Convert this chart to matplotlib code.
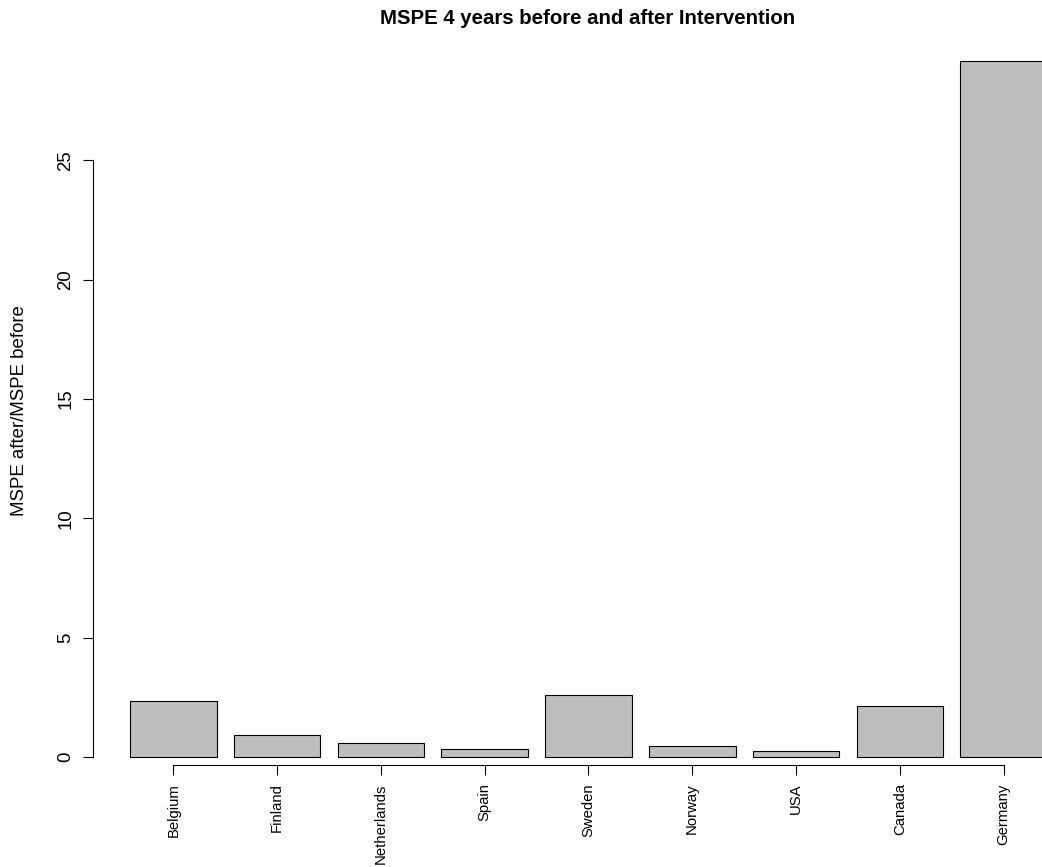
import numpy as np
import matplotlib
matplotlib.use("Agg")
import matplotlib.pyplot as plt

plt.rcParams['font.family'] = ['Liberation Sans', 'DejaVu Sans']

countries = ['Belgium', 'Finland', 'Netherlands', 'Spain', 'Sweden',
             'Norway', 'USA', 'Canada', 'Germany']
ratio = [2.35, 0.91, 0.60, 0.32, 2.61, 0.47, 0.26, 2.15, 29.17]
yticks = [0, 5, 10, 15, 20, 25]

# R barplot geometry: width 1, space 0.2
n = len(countries)
lefts = 0.2 + 1.2 * np.arange(n)
mids = lefts + 0.5
M = max(ratio)

W, H = 1042, 867
fig = plt.figure(figsize=(W / 100, H / 100), dpi=100)

# axes region in pixels (R plot region with 4% padding)
px_x, px_y = 86.5, 23.87
zero_px = 757
span = lefts[-1] + 1 - lefts[0]
x0, x1 = lefts[0] - 0.04 * span, lefts[-1] + 1 + 0.04 * span
y0, y1 = -0.04 * M, 1.04 * M
ax_left = 130 - (lefts[0] - x0) * px_x
ax_bottom = zero_px - y0 * px_y
ax_top = zero_px - y1 * px_y
ax = fig.add_axes([ax_left / W, 1 - ax_bottom / H,
                   (x1 - x0) * px_x / W, (ax_bottom - ax_top) / H])
ax.set_xlim(x0, x1)
ax.set_ylim(y0, y1)

ax.bar(lefts, ratio, width=1, align='edge', color='#bebebe',
       edgecolor='black', linewidth=0.8, clip_on=False)

for s in ['top', 'right']:
    ax.spines[s].set_visible(False)
ax.spines['left'].set_bounds(0, 25)
ax.spines['bottom'].set_position(('data', -8 / px_y))
ax.spines['bottom'].set_bounds(mids[0], mids[-1])
for s in ['left', 'bottom']:
    ax.spines[s].set_linewidth(0.8)

ax.set_yticks(yticks)
ax.set_yticklabels([str(v) for v in yticks], rotation=90, va='center')
ax.tick_params(axis='y', length=7.5, width=0.8, pad=6, labelsize=13.4)
ax.set_xticks(mids)
ax.set_xticklabels(countries, rotation=90, va='top', ha='center')
ax.tick_params(axis='x', length=7.2, width=0.8, pad=6, labelsize=10.7)

fig.text(588 / W, 1 - 18 / H, 'MSPE 4 years before and after Intervention',
         ha='center', va='center', fontsize=14.7, fontweight='bold')
fig.text(20 / W, 1 - 411 / H, 'MSPE after/MSPE before', rotation=90,
         ha='center', va='center', fontsize=13.4)

fig.savefig('out.png', dpi=100)
